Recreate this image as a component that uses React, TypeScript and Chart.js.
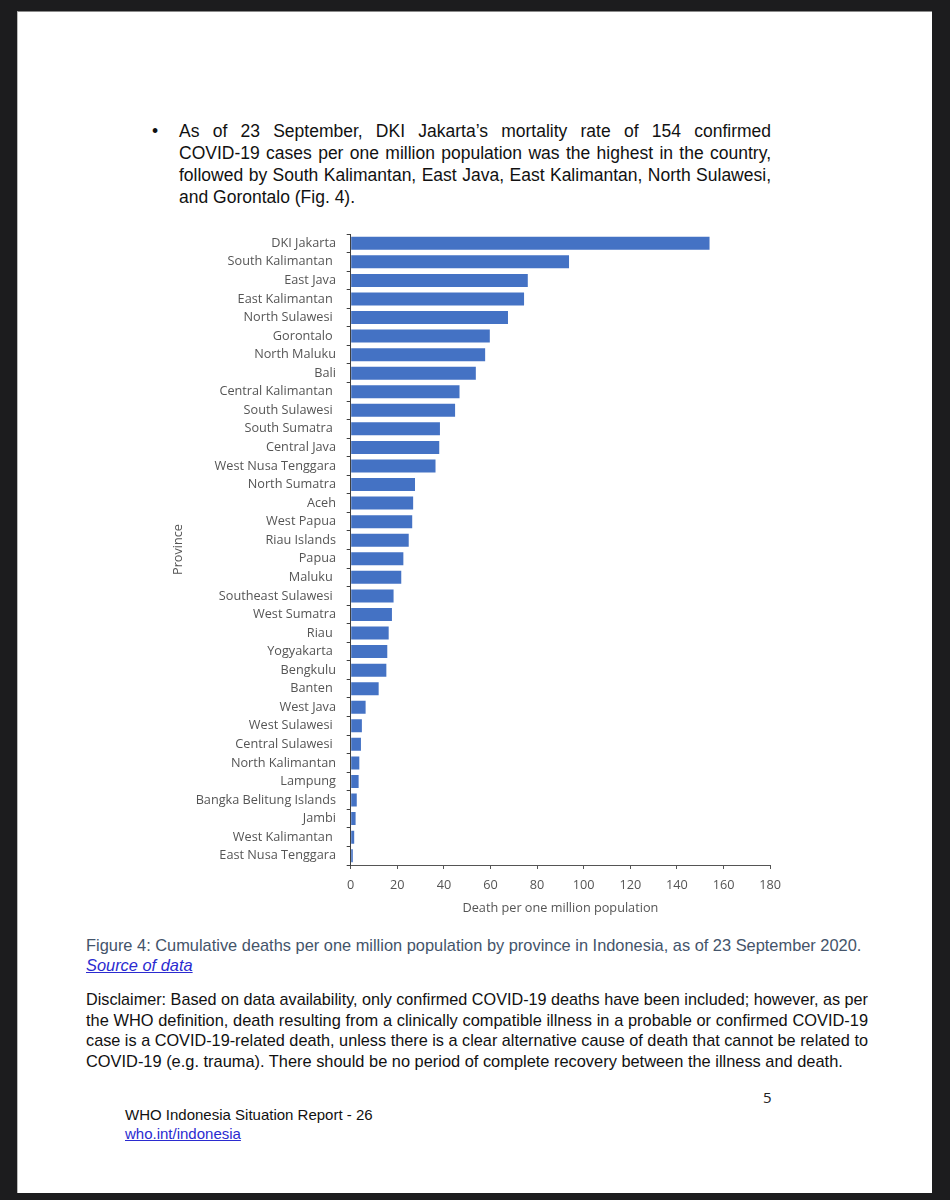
import React, { useEffect, useLayoutEffect, useRef } from "react";
import { Chart, registerables } from "chart.js";

Chart.register(...registerables);

const provinces: string[] = [
  "DKI Jakarta",
  "South Kalimantan ",
  "East Java",
  "East Kalimantan ",
  "North Sulawesi ",
  "Gorontalo ",
  "North Maluku",
  "Bali",
  "Central Kalimantan ",
  "South Sulawesi ",
  "South Sumatra ",
  "Central Java",
  "West Nusa Tenggara",
  "North Sumatra",
  "Aceh",
  "West Papua",
  "Riau Islands",
  "Papua",
  "Maluku ",
  "Southeast Sulawesi ",
  "West Sumatra",
  "Riau ",
  "Yogyakarta ",
  "Bengkulu",
  "Banten ",
  "West Java",
  "West Sulawesi ",
  "Central Sulawesi ",
  "North Kalimantan",
  "Lampung",
  "Bangka Belitung Islands",
  "Jambi",
  "West Kalimantan ",
  "East Nusa Tenggara",
];

const deathsPerMillion: number[] = [
  154, 93.7, 76.0, 74.4, 67.5, 59.7, 57.7, 53.7, 46.7, 44.8, 38.3, 38.0, 36.4,
  27.6, 26.8, 26.4, 24.9, 22.6, 21.7, 18.4, 17.7, 16.3, 15.7, 15.3, 12.0, 6.4,
  4.8, 4.4, 3.7, 3.4, 2.6, 2.1, 1.5, 0.9,
];

const xAxisMin = 0;
const xAxisMax = 180;
const xAxisStep = 20;
const xAxisTitle = "Death per one million population";
const yAxisTitle = "Province";

const bulletLines: string[] = [
  "As of 23 September, DKI Jakarta\u2019s mortality rate of 154 confirmed",
  "COVID-19 cases per one million population was the highest in the country,",
  "followed by South Kalimantan, East Java, East Kalimantan, North Sulawesi,",
  "and Gorontalo (Fig. 4).",
];

const captionText =
  "Figure 4: Cumulative deaths per one million population by province in Indonesia, as of 23 September 2020.";
const sourceText = "Source of data";

const disclaimerLines: string[] = [
  "Disclaimer: Based on data availability, only confirmed COVID-19 deaths have been included; however, as per",
  "the WHO definition, death resulting from a clinically compatible illness in a probable or confirmed COVID-19",
  "case is a COVID-19-related death, unless there is a clear alternative cause of death that cannot be related to",
  "COVID-19 (e.g. trauma). There should be no period of complete recovery between the illness and death.",
];

const footerTitle = "WHO Indonesia Situation Report - 26";
const footerLink = "who.int/indonesia";
const pageNumber = "5";

const LABEL_GRAY = "#555555";
const BAR_BLUE = "#4472C4";
const TICK_FONT = { family: "'Open Sans', sans-serif", size: 12.7 };

function BarChart() {
  const ref = useRef<HTMLCanvasElement | null>(null);
  useEffect(() => {
    if (!ref.current) return;
    const chart = new Chart(ref.current, {
      type: "bar",
      data: {
        labels: provinces,
        datasets: [
          {
            data: deathsPerMillion,
            backgroundColor: BAR_BLUE,
            borderWidth: 0,
            barPercentage: 0.7,
            categoryPercentage: 1,
          },
        ],
      },
      options: {
        indexAxis: "y",
        responsive: false,
        animation: false,
        devicePixelRatio: 1,
        layout: { padding: { top: 9, right: 19.3, left: 0, bottom: 0 } },
        plugins: {
          legend: { display: false },
          tooltip: { enabled: false },
        },
        scales: {
          x: {
            type: "linear",
            min: xAxisMin,
            max: xAxisMax,
            ticks: {
              stepSize: xAxisStep,
              color: LABEL_GRAY,
              font: TICK_FONT,
              padding: 9,
              maxRotation: 0,
            },
            grid: {
              display: true,
              drawOnChartArea: false,
              drawTicks: true,
              tickLength: 4,
              color: LABEL_GRAY,
            },
            border: { display: true, color: LABEL_GRAY, width: 1 },
            title: {
              display: true,
              text: xAxisTitle,
              color: LABEL_GRAY,
              font: TICK_FONT,
              padding: { top: 0, bottom: 9 },
            },
            afterFit: (scale: any) => {
              scale.height = 60;
            },
          },
          y: {
            type: "category",
            ticks: {
              color: LABEL_GRAY,
              font: TICK_FONT,
              padding: 10.7,
              autoSkip: false,
            },
            grid: {
              display: true,
              drawOnChartArea: false,
              drawTicks: true,
              tickLength: 4,
              color: "#404040",
              offset: true,
            },
            border: { display: true, color: "#404040", width: 1 },
            title: {
              display: true,
              text: yAxisTitle,
              color: LABEL_GRAY,
              font: TICK_FONT,
              padding: { top: 10.4, bottom: 0 },
            },
            afterFit: (scale: any) => {
              scale.width = 190.7;
              scale.paddingTop = 0;
              scale.paddingBottom = 0;
            },
          },
        },
      } as any,
    });
    return () => chart.destroy();
  }, []);
  return (
    <canvas
      ref={ref}
      width={630}
      height={700}
      style={{ position: "absolute", left: 160, top: 225, width: 630, height: 700 }}
    />
  );
}

const SANS = "'Liberation Sans', Arial, sans-serif";

function FitLine({ text, width, justify }: { text: string; width: number; justify: boolean }) {
  const ref = useRef<HTMLSpanElement | null>(null);
  useLayoutEffect(() => {
    const el = ref.current;
    if (!el) return;
    el.style.wordSpacing = "0px";
    el.style.transform = "none";
    const w = el.getBoundingClientRect().width;
    if (w > width) {
      el.style.transform = `scaleX(${width / w})`;
    } else if (justify) {
      const spaces = (text.match(/ /g) || []).length;
      if (spaces > 0) el.style.wordSpacing = `${(width - w) / spaces}px`;
    }
  }, [text, width, justify]);
  return (
    <div style={{ width, whiteSpace: "nowrap" }}>
      <span ref={ref} style={{ display: "inline-block", transformOrigin: "left center" }}>
        {text}
      </span>
    </div>
  );
}

function JustifiedLines({
  lines,
  left,
  top,
  width,
  fontSize,
  lineHeight,
  color,
}: {
  lines: string[];
  left: number;
  top: number;
  width: number;
  fontSize: number;
  lineHeight: number;
  color: string;
}) {
  return (
    <div
      style={{
        position: "absolute",
        left,
        top,
        width,
        fontFamily: SANS,
        fontSize,
        lineHeight: lineHeight + "px",
        color,
      }}
    >
      {lines.map((l, i) => (
        <FitLine key={i} text={l} width={width} justify={i !== lines.length - 1} />
      ))}
    </div>
  );
}

export default function App() {
  return (
    <div
      style={{
        position: "absolute",
        left: 0,
        top: 0,
        width: 950,
        height: 1200,
        background: "#1c1c1e",
        overflow: "hidden",
      }}
    >
      <div
        style={{
          position: "absolute",
          left: 17,
          top: 11,
          width: 915,
          height: 1182,
          background: "#ffffff",
          borderTop: "1px solid #8a8a8a",
          borderLeft: "1px solid #bbbbbb",
          boxSizing: "border-box",
        }}
      />
      <div
        style={{
          position: "absolute",
          left: 152,
          top: 120,
          fontFamily: SANS,
          fontSize: 17.5,
          lineHeight: "22px",
          color: "#111",
        }}
      >
        {"\u2022"}
      </div>
      <JustifiedLines
        lines={bulletLines}
        left={179}
        top={120}
        width={592}
        fontSize={17.5}
        lineHeight={22}
        color="#111"
      />
      <BarChart />
      <div
        style={{
          position: "absolute",
          left: 86,
          top: 935,
          fontFamily: SANS,
          fontSize: 16.4,
          lineHeight: "20px",
          color: "#44546a",
          whiteSpace: "nowrap",
        }}
      >
        <div>{captionText}</div>
        <div style={{ fontStyle: "italic", textDecoration: "underline", color: "#2b2bd0" }}>
          {sourceText}
        </div>
      </div>
      <JustifiedLines
        lines={disclaimerLines}
        left={86}
        top={989}
        width={782}
        fontSize={16.4}
        lineHeight={20.5}
        color="#111"
      />
      <div
        style={{
          position: "absolute",
          left: 763,
          top: 1086,
          fontFamily: "'Open Sans', sans-serif",
          fontSize: 15,
          lineHeight: "22px",
          color: "#222",
        }}
      >
        {pageNumber}
      </div>
      <div
        style={{
          position: "absolute",
          left: 125,
          top: 1105,
          fontFamily: SANS,
          fontSize: 15,
          lineHeight: "19px",
          color: "#111",
          whiteSpace: "nowrap",
        }}
      >
        <div>{footerTitle}</div>
        <div style={{ color: "#2b2bd0", textDecoration: "underline" }}>{footerLink}</div>
      </div>
    </div>
  );
}
